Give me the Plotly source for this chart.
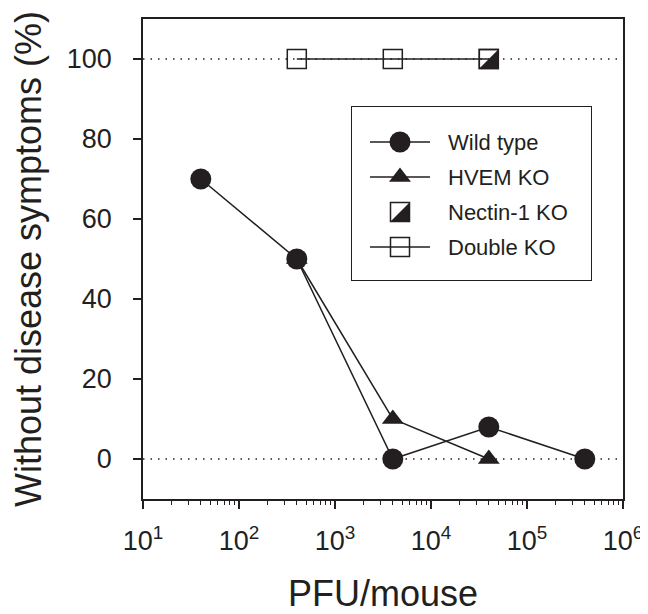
import plotly.graph_objects as go

# ---------------- data ----------------
pfu_wild = [40, 400, 4000, 40000, 400000]
pct_wild = [70, 50, 0, 8, 0]
pfu_hvem = [400, 4000, 40000]
pct_hvem = [50, 10, 0]
pfu_nectin = [40000]
pct_nectin = [100]
pfu_double = [400, 4000, 40000]
pct_double = [100, 100, 100]

series_names = ["Wild type", "HVEM KO", "Nectin-1 KO", "Double KO"]
x_tick_vals = [1e1, 1e2, 1e3, 1e4, 1e5, 1e6]
x_tick_text = ["10<sup>1</sup>", "10<sup>2</sup>", "10<sup>3</sup>",
               "10<sup>4</sup>", "10<sup>5</sup>", "10<sup>6</sup>"]
y_tick_vals = [0, 20, 40, 60, 80, 100]
ref_lines = [0, 100]

# ---------------- style ----------------
INK = "#231f20"
FONT = "Liberation Sans, Arial, Helvetica, sans-serif"
LW = 1.5
CIRCLE = 21
TRI = 19
SQ = 19

PAGE_PAD = 8                      # browser body margin
W, H = 648 - PAGE_PAD, 614 - PAGE_PAD
ML, MT = 143 - PAGE_PAD, 19 - PAGE_PAD
PR, PB = 623 - PAGE_PAD, 499 - PAGE_PAD   # plot right / bottom in figure px
MR, MB = W - PR, H - PB
PW, PH = PR - ML, PB - MT
Y_RANGE = [-10, 110]
px_per_unit = PH / (Y_RANGE[1] - Y_RANGE[0])

fig = go.Figure()


def add_nectin(x, y, xa, ya, unit):
    """Square with lower-right half filled: open square + shifted corner triangle."""
    d = SQ / 6.0
    fig.add_trace(go.Scatter(
        x=x, y=[v - d / unit for v in y], xaxis=xa, yaxis=ya, mode="markers",
        showlegend=False, hoverinfo="skip",
        marker=dict(symbol="triangle-sw", angle=270, standoff=d, size=SQ * 10 / 9,
                    color=INK, line=dict(width=0))))
    fig.add_trace(go.Scatter(
        x=x, y=y, xaxis=xa, yaxis=ya, mode="markers", showlegend=False,
        name="Nectin-1 KO",
        marker=dict(symbol="square-open", size=SQ,
                    color=INK, line=dict(width=LW, color=INK))))


# main plot traces
fig.add_trace(go.Scatter(
    x=pfu_double, y=pct_double, mode="lines+markers", name=series_names[3],
    showlegend=False, line=dict(color=INK, width=LW),
    marker=dict(symbol="square-open", size=SQ, color=INK, line=dict(width=LW, color=INK))))
add_nectin(pfu_nectin, pct_nectin, "x", "y", px_per_unit)
fig.add_trace(go.Scatter(
    x=pfu_hvem, y=pct_hvem, mode="lines+markers", name=series_names[1],
    showlegend=False, line=dict(color=INK, width=LW),
    marker=dict(symbol="triangle-up", size=TRI, color=INK, line=dict(width=0))))
fig.add_trace(go.Scatter(
    x=pfu_wild, y=pct_wild, mode="lines+markers", name=series_names[0],
    showlegend=False, line=dict(color=INK, width=LW),
    marker=dict(symbol="circle", size=CIRCLE, color=INK, line=dict(width=0))))

for v in ref_lines:
    fig.add_hline(y=v, line=dict(color=INK, width=1.5, dash="1.5px,6px"), layer="below")

# ---------------- hand-made legend (own small axes, pixel units) ----------------
LEG_X0, LEG_X1 = 352 - PAGE_PAD, 591 - PAGE_PAD
LEG_Y0, LEG_Y1 = 107 - PAGE_PAD, 280 - PAGE_PAD
leg_w, leg_h = LEG_X1 - LEG_X0, LEG_Y1 - LEG_Y0
row_gap = 35
row_top = 35
seg_x = [18, 78]
mk_x = 48
txt_x = 94
row_y = [leg_h - row_top - row_gap * i for i in range(len(series_names))]

leg_styles = [
    dict(symbol="circle", size=CIRCLE),
    dict(symbol="triangle-up", size=TRI),
    None,
    dict(symbol="square-open", size=SQ),
]
for i, name in enumerate(series_names):
    st = leg_styles[i]
    yy = row_y[i]
    if st is None:
        add_nectin([mk_x], [yy], "x2", "y2", 1.0)
    else:
        fig.add_trace(go.Scatter(
            x=seg_x, y=[yy, yy], xaxis="x2", yaxis="y2", mode="lines",
            showlegend=False, hoverinfo="skip", line=dict(color=INK, width=LW)))
        fig.add_trace(go.Scatter(
            x=[mk_x], y=[yy], xaxis="x2", yaxis="y2", mode="markers",
            showlegend=False, hoverinfo="skip",
            marker=dict(symbol=st["symbol"], size=st["size"], color=INK,
                        line=dict(width=LW if "open" in st["symbol"] else 0, color=INK))))
    fig.add_annotation(x=txt_x, y=yy, xref="x2", yref="y2", text=name,
                       showarrow=False, xanchor="left", yanchor="middle",
                       font=dict(family=FONT, size=22, color=INK))

axis_common = dict(showline=True, mirror=True, linecolor=INK, linewidth=1.5,
                   showgrid=False, zeroline=False,
                   tickcolor=INK, tickwidth=1.5, ticklen=8, ticks="outside",
                   tickfont=dict(family=FONT, size=27, color=INK))

minor_vals = [m * 10 ** k for k in range(1, 6) for m in range(2, 10)]

fig.update_layout(
    width=W, height=H, template="none",
    paper_bgcolor="white", plot_bgcolor="white",
    margin=dict(l=ML, r=MR, t=MT, b=MB, pad=0),
    showlegend=False,
    font=dict(family=FONT, color=INK),
    xaxis=dict(type="log", range=[1, 6], tickmode="array",
               tickvals=x_tick_vals, ticktext=x_tick_text,
               ticklabelstandoff=9,
               minor=dict(tickmode="array", tickvals=minor_vals, ticks="outside",
                          ticklen=4, tickwidth=1.2, tickcolor=INK),
               title=dict(text="PFU/mouse", font=dict(family=FONT, size=36, color=INK),
                          standoff=36),
               domain=[0, 1], **axis_common),
    yaxis=dict(range=Y_RANGE, tickmode="array", tickvals=y_tick_vals,
               ticklabelstandoff=16,
               title=dict(text="Without disease symptoms (%)",
                          font=dict(family=FONT, size=36, color=INK), standoff=18),
               domain=[0, 1], **axis_common),
    xaxis2=dict(domain=[(LEG_X0 - ML) / PW, (LEG_X1 - ML) / PW], range=[0, leg_w],
                anchor="y2", showline=True, mirror=True, linecolor=INK, linewidth=1.2,
                showgrid=False, zeroline=False, showticklabels=False, ticks="",
                tickvals=[], fixedrange=True),
    yaxis2=dict(domain=[(PB - LEG_Y1) / PH, (PB - LEG_Y0) / PH], range=[0, leg_h],
                anchor="x2", showline=True, mirror=True, linecolor=INK, linewidth=1.2,
                showgrid=False, zeroline=False, showticklabels=False, ticks="",
                tickvals=[], fixedrange=True),
)

fig.write_html("out.html")
